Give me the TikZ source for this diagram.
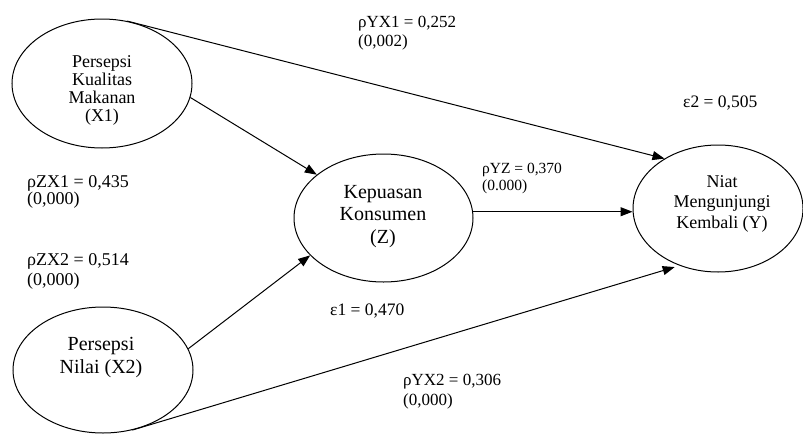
\documentclass[tikz,border=0pt]{standalone}
\usepackage{fontspec}
\setmainfont{Liberation Serif}
\usetikzlibrary{shapes.geometric,arrows.meta}

\tikzset{
  latent/.style={ellipse, draw, line width=1pt, inner sep=0pt},
  vartext/.style={align=center, anchor=base, inner sep=0pt},
  coef/.style={align=left, anchor=base west, inner sep=0pt},
  path/.style={line width=1pt, -{Triangle[length=12pt,width=9pt]}},
}

\begin{document}
\begin{tikzpicture}[x=1pt,y=-1pt]
  \useasboundingbox (0,0) rectangle (803,434);

  % latent variables
  \node[latent, minimum width=180pt, minimum height=129pt] (x1) at (102,83.5) {};
  \node[latent, minimum width=179pt, minimum height=128pt] (z)  at (383.5,218) {};
  \node[latent, minimum width=170pt, minimum height=127pt] (y)  at (718,208.5) {};
  \node[latent, minimum width=180pt, minimum height=126pt] (x2) at (103,370) {};

  % variable names (anchored at the baseline of the last line)
  \node[vartext, font=\fontsize{18}{18}\selectfont] (x1t) at (102,121) {Persepsi\\Kualitas\\Makanan\\(X1)};
  \node[vartext, font=\fontsize{20}{22.5}\selectfont] (zt) at (383,243) {Kepuasan\\Konsumen\\(Z)};
  \node[vartext, font=\fontsize{18}{20.5}\selectfont] (yt) at (722,228) {Niat\\Mengunjungi\\Kembali (Y)};
  \node[vartext, font=\fontsize{20}{23}\selectfont] (x2t) at (101,373) {Persepsi\\Nilai (X2)};

  % structural paths
  \draw[path] (x1.-9) -- (z.147);
  \draw[path] (x2.14) -- (z.207);
  \draw[path] (x1.68) -- (y.137);
  \draw[path] (z.4) -- (z.4 -| y.west);
  \draw[path, shorten >=5pt] (x2.-64) -- (y.236);

  % path coefficients and residuals
  \node[coef, font=\fontsize{17}{19}\selectfont] (pyx1) at (358,46) {ρYX1 = 0,252\\(0,002)};
  \node[coef, font=\fontsize{17.5}{19}\selectfont] (e2) at (683,107) {ε2 = 0,505};
  \node[coef, font=\fontsize{18}{17}\selectfont] (pzx1) at (27,204) {ρZX1 = 0,435\\(0,000)};
  \node[coef, font=\fontsize{15.5}{17}\selectfont] (pyz) at (482,190) {ρYZ = 0,370\\(0.000)};
  \node[coef, font=\fontsize{18}{20}\selectfont] (pzx2) at (27,285) {ρZX2 = 0,514\\(0,000)};
  \node[coef, font=\fontsize{17.5}{19}\selectfont] (e1) at (330,315) {ε1 = 0,470};
  \node[coef, font=\fontsize{17}{20}\selectfont] (pyx2) at (403,405) {ρYX2 = 0,306\\(0,000)};
\end{tikzpicture}
\end{document}
